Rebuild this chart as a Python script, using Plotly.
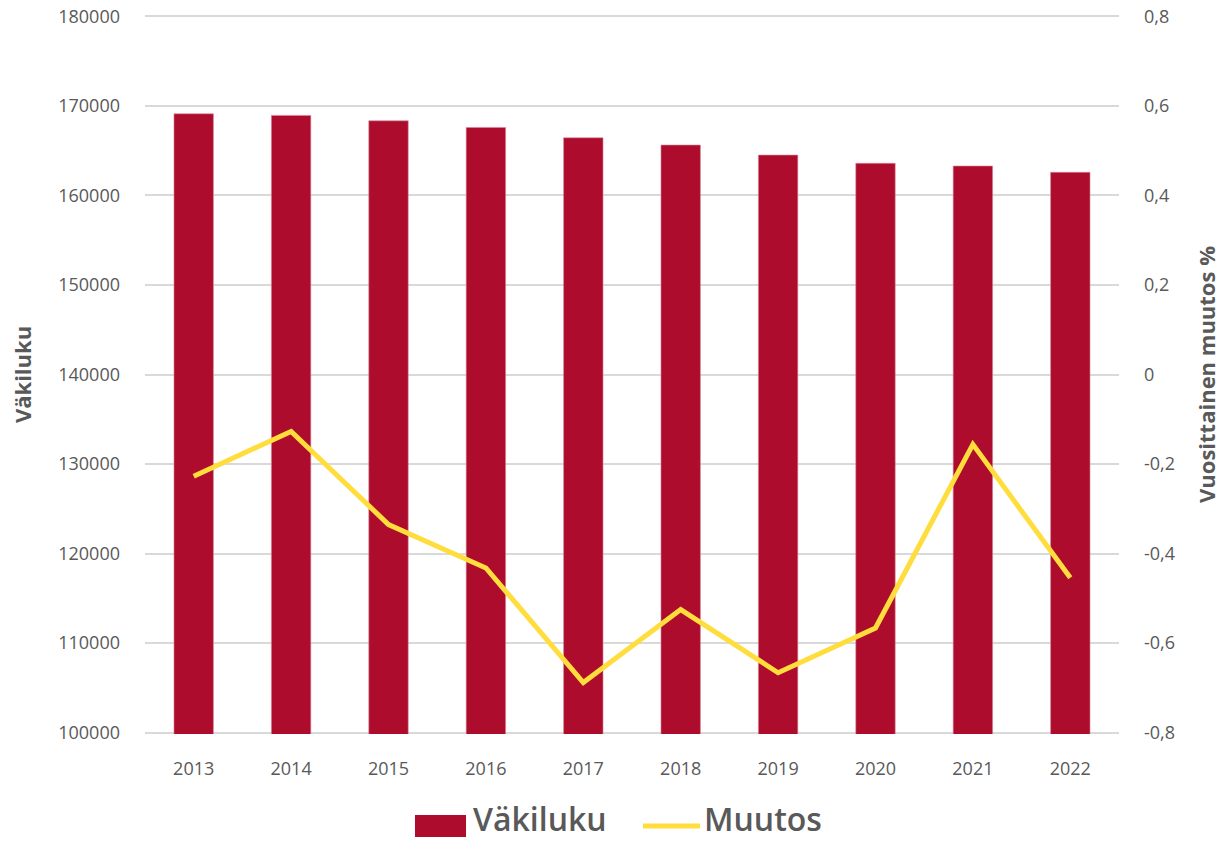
import plotly.graph_objects as go

years = ["2013", "2014", "2015", "2016", "2017", "2018", "2019", "2020", "2021", "2022"]
vakiluku = [169110, 168930, 168330, 167590, 166430, 165620, 164500, 163580, 163280, 162575]
muutos = [-0.227, -0.127, -0.335, -0.432, -0.688, -0.525, -0.666, -0.566, -0.156, -0.454]

left_ticks = [100000, 110000, 120000, 130000, 140000, 150000, 160000, 170000, 180000]
right_tickvals = [-0.8, -0.6, -0.4, -0.2, 0, 0.2, 0.4, 0.6, 0.8]
right_ticktext = ["-0,8", "-0,6", "-0,4", "-0,2", "0", "0,2", "0,4", "0,6", "0,8"]

FONT = "Open Sans"
GREY = "#595959"
RED = "#AE0C2C"
YELLOW = "#FFDD3C"

fig = go.Figure()
fig.add_trace(go.Bar(
    x=years, y=vakiluku, name="Väkiluku",
    marker=dict(color=RED, line=dict(color="#D98A9A", width=0.6)),
    yaxis="y", showlegend=False,
))
fig.add_trace(go.Scatter(
    x=years, y=muutos, name="Muutos", mode="lines",
    line=dict(color=YELLOW, width=5),
    yaxis="y2", showlegend=False,
))

# custom legend (to match the wide swatches of the reference)
fig.add_shape(type="rect", xref="paper", yref="paper",
              x0=0.2772, x1=0.3296, y0=-0.1433, y1=-0.1127,
              fillcolor=RED, line=dict(width=0))
fig.add_shape(type="line", xref="paper", yref="paper",
              x0=0.5113, x1=0.5698, y0=-0.128, y1=-0.128,
              line=dict(color=YELLOW, width=5))
fig.add_annotation(text="Väkiluku", xref="paper", yref="paper", x=0.3347, y=-0.1182,
                   xanchor="left", yanchor="middle", showarrow=False,
                   font=dict(size=32, color=GREY, family=FONT, weight=600))
fig.add_annotation(text="Muutos", xref="paper", yref="paper", x=0.5719, y=-0.1182,
                   xanchor="left", yanchor="middle", showarrow=False,
                   font=dict(size=32, color=GREY, family=FONT, weight=600))

fig.update_layout(
    width=1221, height=841,
    margin=dict(l=145, r=102, t=15, b=107),
    paper_bgcolor="white", plot_bgcolor="white",
    font=dict(family=FONT, color=GREY, size=18),
    bargap=0.595,
    showlegend=False,
    xaxis=dict(showgrid=False, showline=False, zeroline=False, ticks="", automargin=False,
               ticklabelstandoff=22, tickfont=dict(size=18, color=GREY)),
    yaxis=dict(range=[99860, 180140], tickvals=left_ticks, tickformat="d",
               showgrid=True, gridcolor="#D9D9D9", gridwidth=1.5, automargin=False,
               zeroline=False, showline=False, ticks="",
               ticklabelstandoff=24, tickfont=dict(size=18, color=GREY),
               title=dict(text="<b>Väkiluku</b>", font=dict(size=22, color=GREY), standoff=20)),
    yaxis2=dict(range=[-0.8028, 0.8028], tickvals=right_tickvals, ticktext=right_ticktext,
                overlaying="y", side="right", showgrid=False, zeroline=False, automargin=False,
                showline=False, ticks="", ticklabelstandoff=24,
                tickfont=dict(size=18, color=GREY),
                title=dict(text="<b>Vuosittainen muutos %</b>", font=dict(size=22, color=GREY), standoff=25)),
)

fig.write_html("out.html", config={"displayModeBar": False},
               post_script="document.body.style.margin='0px';document.body.style.overflow='hidden';")
